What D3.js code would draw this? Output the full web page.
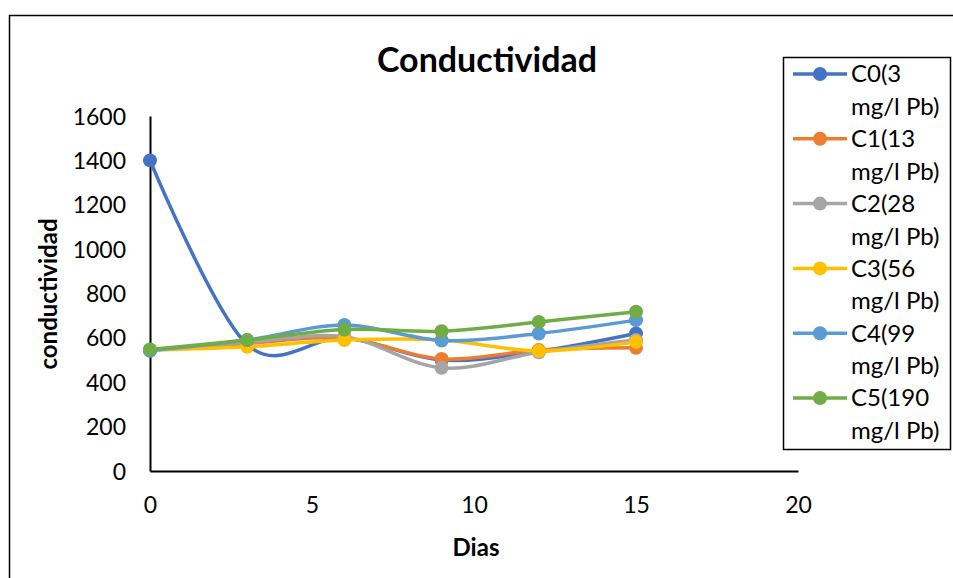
<!DOCTYPE html>
<html>
<head>
<meta charset="utf-8">
<script src="https://cdn.jsdelivr.net/npm/d3@7"></script>
<style>
  html, body { margin: 0; padding: 0; background: #fff; }
  svg { display: block; font-family: Lato, "Open Sans", sans-serif; }
</style>
</head>
<body>
<svg id="chart" width="953" height="578"></svg>
<script>
// Días de muestreo
const dias = [0, 3, 6, 9, 12, 15];

// Conductividad por concentración de plomo
const seriesNames = ["C0(3 mg/l Pb)", "C1(13 mg/l Pb)", "C2(28 mg/l Pb)", "C3(56 mg/l Pb)", "C4(99 mg/l Pb)", "C5(190 mg/l Pb)"];
const c0 = [1400, 570, 600, 500, 540, 620];
const c1 = [545, 575, 600, 505, 545, 555];
const c2 = [545, 580, 605, 465, 535, 590];
const c3 = [545, 560, 590, 590, 541, 582];
const c4 = [542, 590, 658, 588, 620, 680];
const c5 = [548, 590, 638, 630, 672, 718];
const seriesValues = [c0, c1, c2, c3, c4, c5];
const colors = ["#4472C4", "#ED7D31", "#A5A5A5", "#FFC000", "#5B9BD5", "#70AD47"];

const xTicks = [0, 5, 10, 15, 20];
const yTicks = [0, 200, 400, 600, 800, 1000, 1200, 1400, 1600];

const svg = d3.select("#chart");

// Marco exterior del gráfico
svg.append("rect")
  .attr("x", 9.5).attr("y", 15.5)
  .attr("width", 1000).attr("height", 1000)
  .attr("fill", "none").attr("stroke", "#000").attr("stroke-width", 1.5);

const x = d3.scaleLinear().domain([0, 20]).range([150, 798]);
const y = d3.scaleLinear().domain([0, 1600]).range([471, 116]);

// Ejes
const xAxis = svg.append("g").attr("transform", `translate(0,${y(0)})`)
  .call(d3.axisBottom(x).tickValues(xTicks).tickFormat(d3.format("d")).tickSize(0).tickPadding(26));
const yAxis = svg.append("g").attr("transform", `translate(${x(0)},0)`)
  .call(d3.axisLeft(y).tickValues(yTicks).tickFormat(d3.format("d")).tickSize(0).tickPadding(24));

[xAxis, yAxis].forEach(g => {
  g.select(".domain").attr("stroke", "#000").attr("stroke-width", 2);
  g.selectAll("text").attr("font-family", "Lato, sans-serif").attr("font-size", 23).attr("fill", "#000");
});
yAxis.selectAll("text").attr("dy", "0.35em");

// Curvas suavizadas
const line = d3.line()
  .x((d, i) => x(dias[i]))
  .y(d => y(d))
  .curve(d3.curveCatmullRom.alpha(0));

seriesValues.forEach((vals, s) => {
  svg.append("path")
    .datum(vals)
    .attr("d", line)
    .attr("fill", "none")
    .attr("stroke", colors[s])
    .attr("stroke-width", 3.5)
    .attr("stroke-linecap", "round");
  svg.append("g").selectAll("circle")
    .data(vals)
    .join("circle")
    .attr("cx", (d, i) => x(dias[i]))
    .attr("cy", d => y(d))
    .attr("r", 7)
    .attr("fill", colors[s]);
});

// Título
svg.append("text")
  .attr("x", 487).attr("y", 72)
  .attr("text-anchor", "middle")
  .attr("font-size", 34).attr("font-weight", "bold")
  .text("Conductividad");

// Títulos de ejes
svg.append("text")
  .attr("x", 476).attr("y", 556)
  .attr("text-anchor", "middle")
  .attr("font-size", 24).attr("font-weight", "bold")
  .text("Dias");

svg.append("text")
  .attr("transform", "translate(57,294) rotate(-90)")
  .attr("text-anchor", "middle")
  .attr("font-size", 24).attr("font-weight", "bold")
  .text("conductividad");

// Leyenda
const legend = svg.append("g");
legend.append("rect")
  .attr("x", 783.5).attr("y", 57.5)
  .attr("width", 167).attr("height", 392)
  .attr("fill", "#fff").attr("stroke", "#000").attr("stroke-width", 1.5);

seriesNames.forEach((name, s) => {
  const cy = 74 + s * 64.8;
  const parts = name.split(" ");
  const first = parts[0];
  const rest = parts.slice(1).join(" ");
  legend.append("line")
    .attr("x1", 793).attr("x2", 847)
    .attr("y1", cy).attr("y2", cy)
    .attr("stroke", colors[s]).attr("stroke-width", 3.5);
  legend.append("circle")
    .attr("cx", 820).attr("cy", cy).attr("r", 7)
    .attr("fill", colors[s]);
  const t = legend.append("text")
    .attr("x", 851).attr("y", cy)
    .attr("font-size", 24).attr("dy", "0.35em");
  t.append("tspan").attr("x", 851).text(first);
  t.append("tspan").attr("x", 851).attr("dy", 32.5).text(rest);
});
</script>
</body>
</html>
